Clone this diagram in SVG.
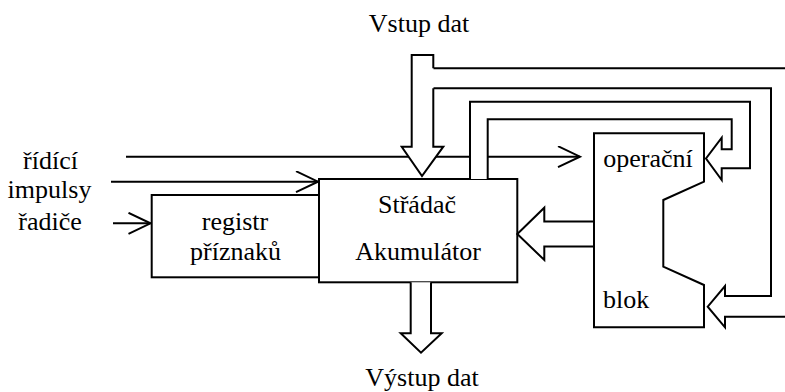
<svg xmlns="http://www.w3.org/2000/svg" width="785" height="392" viewBox="0 0 785 392">
<style>
text{font-family:"Times New Roman",Times,"Liberation Serif",serif;font-size:26px;fill:#000}
.c{text-anchor:middle}
.s{fill:none;stroke:#000;stroke-width:2}
.w{fill:#fff;stroke:#000;stroke-width:2;stroke-linejoin:miter}
</style>
<defs>
<marker id="open" markerUnits="userSpaceOnUse" markerWidth="26" markerHeight="26" viewBox="0 0 26 26" refX="23" refY="11" orient="auto">
<path d="M1,0.5 L23,11 L1,21.5" fill="none" stroke="#000" stroke-width="2"/>
</marker>
</defs>
<rect width="785" height="392" fill="#fff"/>
<g id="labels-left">
<text class="c" x="50.5" y="169">řídící</text>
<text class="c" x="49.5" y="198">impulsy</text>
<text class="c" x="50" y="230">řadiče</text>
</g>
<g id="connectors">
<path class="s" d="M126,156.7 H580" marker-end="url(#open)"/>
<path class="s" d="M111,181.7 H318" marker-end="url(#open)"/>
<path class="s" d="M113,223.3 H150.5" marker-end="url(#open)"/>
<path class="s" d="M433.3,68.3 H785"/>
<path class="s" d="M433.3,88.3 H771 V296 H725 V286 L707.7,306.7 L725,327.3 V316.7 H785"/>
</g>
<g id="registr">
<rect class="w" x="151.7" y="195" width="167.3" height="82.3"/>
<text class="c" x="235" y="230">registr</text>
<text class="c" x="235.5" y="260">příznaků</text>
</g>
<g id="stradac">
<rect class="w" x="319" y="179" width="198.3" height="103.3"/>
<text class="c" x="417" y="213">Střádač</text>
<text class="c" x="418" y="260">Akumulátor</text>
</g>
<g id="operacni-blok">
<path class="w" d="M594,133.3 H704 V181.7 L663.3,200 V266.7 L704,285 V327.3 H594 Z"/>
<text class="c" x="648" y="166.7">operační</text>
<text x="603" y="308.3">blok</text>
</g>
<g id="buses">
<path class="w" d="M433.3,88.3 V146.7 H443.3 L422,176 L401.7,146.7 H411.7 V55 H433.3 V68.3"/>
<path class="w" d="M470,179 V101.7 H750 V168.3 H721.7 V180 L706,158.5 L721.7,137.7 V149.3 H731.7 V119.3 H487.7 V179"/>
<path class="w" d="M593,221.5 H544.3 V207.7 L517.3,234 L544.3,260 V246.5 H593"/>
<path class="w" d="M410.7,282.3 V333.3 H400.7 L421,352.7 L441.7,333.3 H431 V282.3"/>
</g>
<g id="io-labels">
<text class="c" x="419" y="32">Vstup dat</text>
<text class="c" x="422" y="386">Výstup dat</text>
</g>
</svg>
